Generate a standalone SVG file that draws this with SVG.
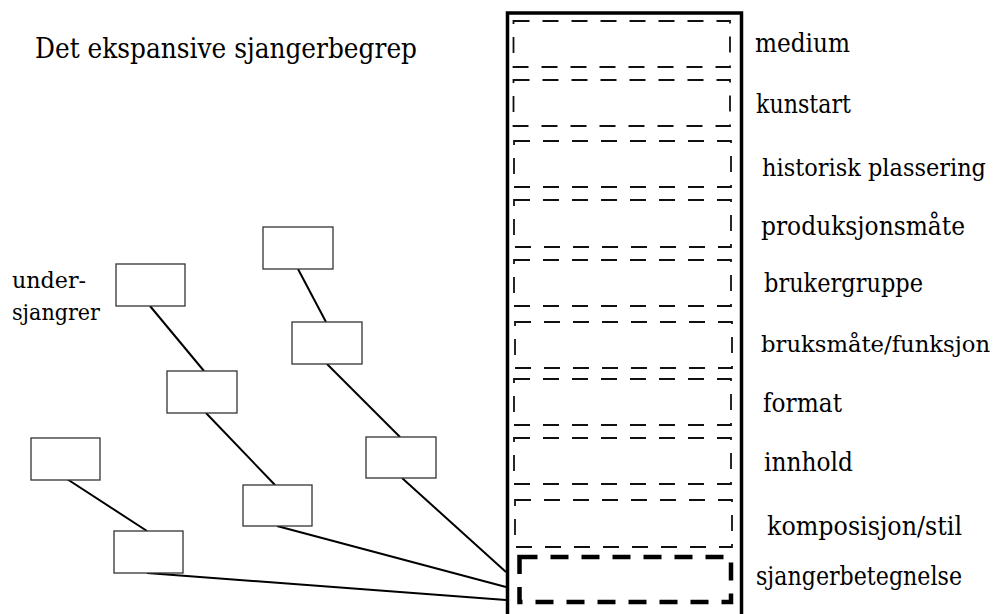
<svg xmlns="http://www.w3.org/2000/svg" width="1000" height="614" viewBox="0 0 1000 614">
<style>
.t{font-family:'DejaVu Serif','Liberation Serif',serif;font-size:26px;fill:#000}
.s{font-size:24px}
.x{font-size:22px}
.d{fill:none;stroke:#111;stroke-width:1.8;stroke-dasharray:16 13}
.n{fill:#fff;stroke:#333;stroke-width:1.3}
.c{stroke:#000;stroke-width:2;fill:none}
</style>
<rect width="1000" height="614" fill="#fff"/>
<text class="t" x="35" y="58" style="font-size:28px" textLength="382" lengthAdjust="spacingAndGlyphs">Det ekspansive sjangerbegrep</text>
<g id="frame">
<rect x="507.5" y="13" width="234" height="620" fill="none" stroke="#000" stroke-width="3.5"/>
</g>
<g id="categories">
<rect class="d" x="513.5" y="21" width="216.5" height="46"/>
<rect class="d" x="513.5" y="80" width="216.5" height="46"/>
<rect class="d" x="514" y="141" width="217" height="46"/>
<rect class="d" x="514" y="200" width="217" height="47"/>
<rect class="d" x="514" y="260" width="217" height="46"/>
<rect class="d" x="515" y="322" width="217" height="46"/>
<rect class="d" x="514" y="379" width="217" height="46"/>
<rect class="d" x="514" y="438" width="217" height="46"/>
<rect class="d" x="515" y="500" width="217" height="47"/>
<rect x="519.5" y="557" width="211.5" height="45" fill="none" stroke="#000" stroke-width="4.5" stroke-dasharray="18 13"/>
</g>
<g id="labels">
<text class="t" x="755" y="52" textLength="95" lengthAdjust="spacingAndGlyphs">medium</text>
<text class="t" x="756" y="113" textLength="95" lengthAdjust="spacingAndGlyphs">kunstart</text>
<text class="t s" x="762" y="176" textLength="224" lengthAdjust="spacingAndGlyphs">historisk plassering</text>
<text class="t" x="761" y="235" textLength="204" lengthAdjust="spacingAndGlyphs">produksjonsmåte</text>
<text class="t" x="764" y="292" textLength="159" lengthAdjust="spacingAndGlyphs">brukergruppe</text>
<text class="t x" x="761" y="352" textLength="229" lengthAdjust="spacingAndGlyphs">bruksmåte/funksjon</text>
<text class="t" x="763" y="412" textLength="79" lengthAdjust="spacingAndGlyphs">format</text>
<text class="t" x="764" y="471" textLength="89" lengthAdjust="spacingAndGlyphs">innhold</text>
<text class="t" x="767" y="535" textLength="195" lengthAdjust="spacingAndGlyphs">komposisjon/stil</text>
<text class="t" x="756" y="585" textLength="206" lengthAdjust="spacingAndGlyphs">sjangerbetegnelse</text>
</g>
<g id="sublabel">
<text class="t" x="12" y="288" style="font-size:23px" textLength="74" lengthAdjust="spacingAndGlyphs">under-</text>
<text class="t" x="12" y="320" style="font-size:23px" textLength="88" lengthAdjust="spacingAndGlyphs">sjangrer</text>
</g>
<g id="connectors">
<line class="c" x1="150" y1="306" x2="204" y2="371"/>
<line class="c" x1="206" y1="413" x2="275" y2="485"/>
<line class="c" x1="277" y1="526" x2="506" y2="587"/>
<line class="c" x1="298" y1="269" x2="326" y2="322"/>
<line class="c" x1="327" y1="364" x2="400" y2="437"/>
<line class="c" x1="402" y1="478" x2="506" y2="572"/>
<line class="c" x1="67" y1="479" x2="147" y2="531"/>
<line class="c" x1="147" y1="573" x2="506" y2="600" stroke-width="2.5"/>
</g>
<g id="node-a"><rect class="n" x="116" y="264" width="69" height="42"/></g>
<g id="node-b"><rect class="n" x="167" y="371" width="70" height="42"/></g>
<g id="node-c"><rect class="n" x="31" y="438" width="69" height="42"/></g>
<g id="node-d"><rect class="n" x="114" y="531" width="69" height="42"/></g>
<g id="node-e"><rect class="n" x="263" y="227" width="70" height="42"/></g>
<g id="node-f"><rect class="n" x="292" y="322" width="70" height="42"/></g>
<g id="node-g"><rect class="n" x="366" y="437" width="70" height="41"/></g>
<g id="node-h"><rect class="n" x="243" y="485" width="69" height="41"/></g>
</svg>
